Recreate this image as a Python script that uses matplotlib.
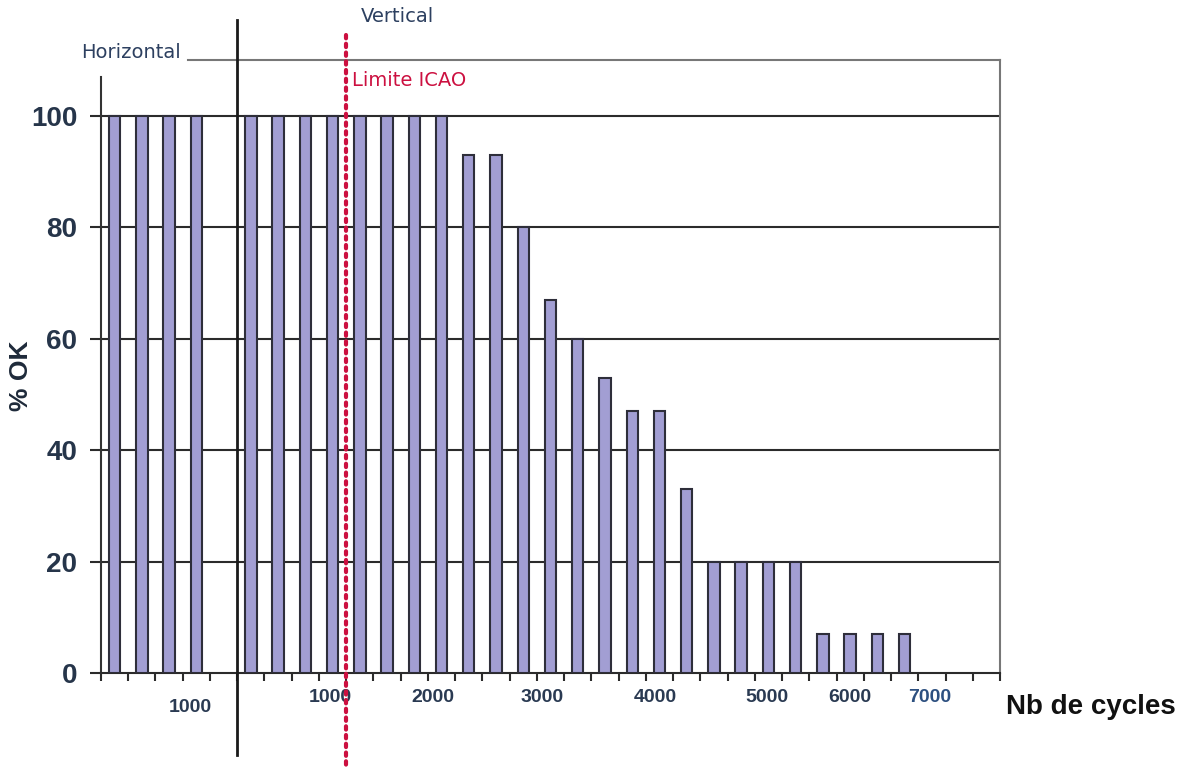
import numpy as np
import matplotlib
matplotlib.use("Agg")
import matplotlib.pyplot as plt
from matplotlib.lines import Line2D

# ---- data ----
horizontal_ok = [100, 100, 100, 100]
vertical_ok = [100, 100, 100, 100, 100, 100, 100, 100,
               93, 93, 80, 67, 60, 53, 47, 47, 33,
               20, 20, 20, 20, 7, 7, 7, 7]
cycle_labels = ["1000", "1000", "2000", "3000", "4000", "5000", "6000", "7000"]
y_ticks = [0, 20, 40, 60, 80, 100]
y_label = "% OK"
x_label = "Nb de cycles"

# ---- layout ----
n_slots = 33
label_pos = [2.77, 7.9, 11.69, 15.69, 19.84, 23.95, 27.0, 29.93]
label_ypix = [708, 697, 697, 697, 697, 697, 697, 697]

plt.rcParams['font.family'] = ['Liberation Sans', 'DejaVu Sans']

W, H = 1183, 767
fig = plt.figure(figsize=(W / 100, H / 100), dpi=100)
ax = fig.add_axes([101 / W, 1 - 673 / H, 899 / W, 613 / H])

ax.set_xlim(-0.5, n_slots - 0.5)
ax.set_ylim(0, 110)

def ypix_to_data(yp):
    return (673 - yp) / (613 / 110)

def xpix_to_data(xp):
    return (xp - 101) / (899 / n_slots) - 0.5

# gridlines
for v in y_ticks[1:]:
    ax.axhline(v, color="#2b2b2b", lw=1.5, zorder=1)

bar_color = "#a29ed3"
edge = "#2e2e3a"
hx = np.arange(len(horizontal_ok))
vx = np.arange(len(vertical_ok)) + len(horizontal_ok) + 1
ax.bar(hx, horizontal_ok, width=0.42, color=bar_color, edgecolor=edge, lw=1.5, zorder=3)
ax.bar(vx, vertical_ok, width=0.42, color=bar_color, edgecolor=edge, lw=1.5, zorder=3)

# spines
ax.spines["top"].set_visible(False)
ax.spines["left"].set_bounds(0, 107)
ax.spines["left"].set_color("#333333")
ax.spines["left"].set_linewidth(1.5)
ax.spines["right"].set_color("#777777")
ax.spines["right"].set_linewidth(1.5)
ax.spines["bottom"].set_color("#2b2b2b")
ax.spines["bottom"].set_linewidth(1.5)

# top line (partial)
ax.plot([xpix_to_data(188), n_slots - 0.5], [110, 110], color="#777777", lw=1.5,
        clip_on=False, zorder=2)

# ticks
ax.set_yticks(y_ticks)
ax.set_yticklabels([str(v) for v in y_ticks], fontsize=20, fontweight="bold", color="#26354a")
ax.tick_params(axis="y", length=8, width=1.5, color="#2b2b2b", pad=9)
ax.set_xticks(np.arange(n_slots + 1) - 0.5)
ax.set_xticklabels([])
ax.tick_params(axis="x", length=6, width=1.5, color="#2b2b2b")

fig.text(21 / W, 1 - 376 / H, y_label, rotation=90, ha="center", va="center",
         fontsize=19, fontweight="bold", color="#1e2a3a")

# cycle labels
for lab, xp, yp in zip(cycle_labels, label_pos, label_ypix):
    col = "#2d5080" if lab == "7000" else "#2a3a52"
    ax.text(xp, ypix_to_data(yp), lab, ha="center", va="center", fontsize=14,
            fontweight="bold", color=col, clip_on=False)

fig.text(1091 / W, 1 - 707 / H, x_label, ha="center", va="center", fontsize=20,
         fontweight="bold", color="#111111")

# separation line (black)
ax.add_line(Line2D([4.5, 4.5], [ypix_to_data(20), ypix_to_data(755)], color="#1a1a1a",
                   lw=2, clip_on=False, zorder=5))
# ICAO limit (red dotted)
ax.add_line(Line2D([8.5, 8.5], [ypix_to_data(35), ypix_to_data(767)], color="#cc1040",
                   lw=3, linestyle=(0, (0.8, 1.3)), dash_capstyle="round",
                   clip_on=False, zorder=6))

fig.text(131 / W, 1 - 52 / H, "Horizontal", ha="center", va="center", fontsize=14,
         color="#2d4060", family="DejaVu Sans")
fig.text(397 / W, 1 - 17 / H, "Vertical", ha="center", va="center", fontsize=14,
         color="#2d4060", family="DejaVu Sans")
fig.text(352 / W, 1 - 80 / H, "Limite ICAO", ha="left", va="center", fontsize=14,
         color="#cc1040", family="DejaVu Sans")

fig.savefig("out.png", dpi=100)
